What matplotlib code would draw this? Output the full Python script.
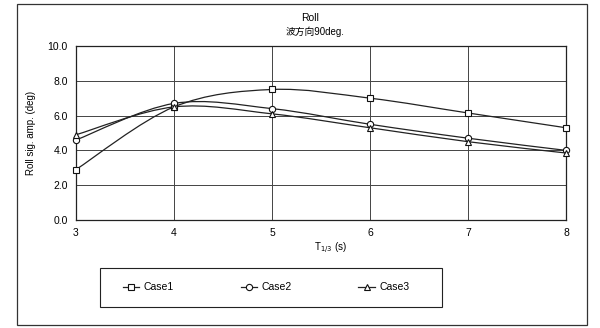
import numpy as np
import matplotlib.pyplot as plt
from matplotlib.path import Path
from matplotlib.patches import PathPatch, Rectangle
from matplotlib.lines import Line2D

plt.rcParams['font.family'] = ['Liberation Sans', 'Noto Sans CJK JP', 'DejaVu Sans']

# periods T1/3 (s)
periods = [3, 4, 5, 6, 7, 8]
case1 = [2.9, 6.5, 7.5, 7.0, 6.15, 5.3]
case2 = [4.6, 6.7, 6.4, 5.5, 4.7, 4.0]
case3 = [4.9, 6.5, 6.1, 5.3, 4.5, 3.85]
names = ['Case1', 'Case2', 'Case3']
markers = ['s', 'o', '^']
yticks = [0, 2, 4, 6, 8, 10]


def smooth_path(x, y):
    # Excel-style smoothed line: cubic bezier with catmull-rom tangents
    x = np.asarray(x, float)
    y = np.asarray(y, float)
    px = np.concatenate([[x[0]], x, [x[-1]]])
    py = np.concatenate([[y[0]], y, [y[-1]]])
    verts = [(x[0], y[0])]
    codes = [Path.MOVETO]
    for i in range(1, len(x)):
        c1 = (px[i] + (px[i + 1] - px[i - 1]) / 6, py[i] + (py[i + 1] - py[i - 1]) / 6)
        c2 = (px[i + 1] - (px[i + 2] - px[i]) / 6, py[i + 1] - (py[i + 2] - py[i]) / 6)
        verts += [c1, c2, (x[i], y[i])]
        codes += [Path.CURVE4] * 3
    return Path(verts, codes)


fig = plt.figure(figsize=(6, 3.28), dpi=100)
ax = fig.add_axes([0.1267, 0.3293, 0.8167, 0.5305])

for vals, m in zip([case1, case2, case3], markers):
    ax.add_patch(PathPatch(smooth_path(periods, vals), fill=False, ec='#222222', lw=0.9, zorder=3))
    ax.plot(periods, vals, ls='none', marker=m, ms=4.5, mfc='white', mec='#111111', mew=0.8,
            zorder=4, clip_on=False)

ax.set_xlim(3, 8)
ax.set_ylim(0, 10)
ax.set_xticks(periods)
ax.set_yticks(yticks)
ax.set_yticklabels(['%.1f' % v for v in yticks])
ax.grid(True, color='#444444', lw=0.7)
ax.tick_params(length=0, labelsize=7.5, pad=6)
for s in ax.spines.values():
    s.set_color('#222222')
    s.set_linewidth(0.9)

ax.set_ylabel('Roll sig. amp. (deg)', fontsize=7, labelpad=8)
fig.text(0.55, 1 - 248 / 328, 'T$_{1/3}$ (s)', fontsize=7, ha='center', va='center')
fig.text(0.517, 1 - 18 / 328, 'Roll', fontsize=7.5, ha='center', va='center')
fig.text(0.525, 1 - 32 / 328, '波方向90deg.', fontsize=7, ha='center', va='center')

handles = [Line2D([], [], color='#222222', lw=0.9, marker=m, ms=4.5, mfc='white', mec='#111111', mew=0.8)
           for m in markers]
leg = fig.legend(handles, names, loc='center', bbox_to_anchor=(266 / 600, 1 - 287.5 / 328),
                 ncol=3, fontsize=7.5, frameon=False,
                 columnspacing=6.4, handlelength=1.6, handletextpad=0.4)

fig.patches.append(Rectangle((100 / 600, 1 - 307 / 328), 342 / 600, 39 / 328, transform=fig.transFigure,
                             fill=False, ec='#222222', lw=0.8))
fig.patches.append(Rectangle((17 / 600, 1 - 325 / 328), 570 / 600, 321 / 328, transform=fig.transFigure,
                             fill=False, ec='#333333', lw=0.9))

fig.savefig('out.png', dpi=100)
